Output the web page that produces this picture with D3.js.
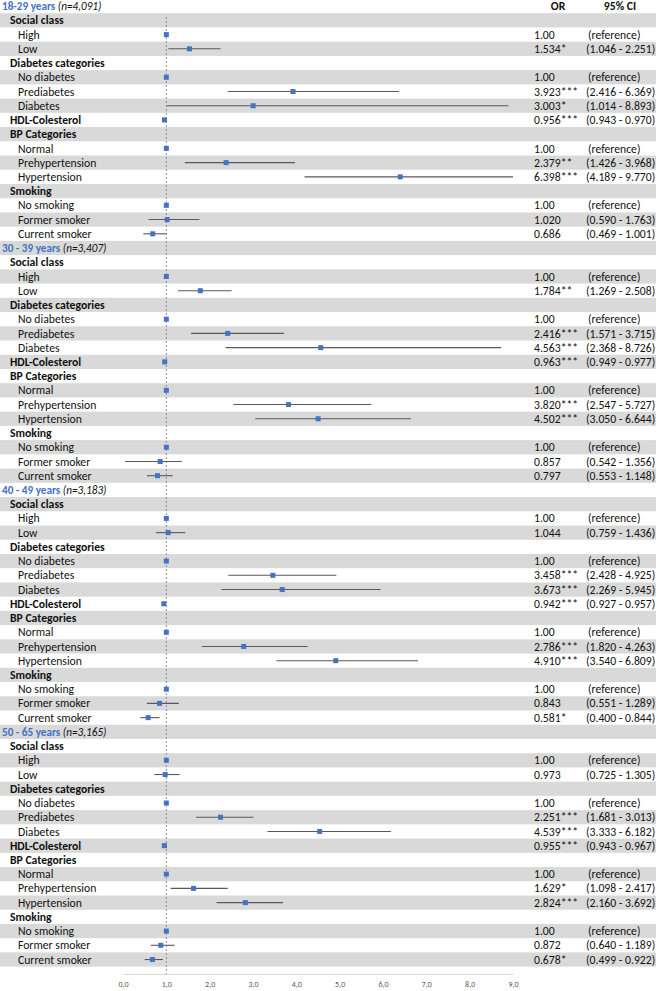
<!DOCTYPE html>
<html>
<head>
<meta charset="utf-8">
<script src="https://cdn.jsdelivr.net/npm/d3@7.9.0/dist/d3.min.js"></script>
<style>
  body { margin: 0; background: #fff; }
  svg text { font-family: Carlito, Lato, "Open Sans", sans-serif; fill: #111; }
</style>
</head>
<body>
<svg width="660" height="991"></svg>
<script>
// age groups
const groupLabels = ["18-29 years", "30 - 39 years", "40 - 49 years", "50 - 65 years"];
const groupN = ["(n=4,091)", "(n=3,407)", "(n=3,183)", "(n=3,165)"];

// rows inside each group (1 = bold header line)
const rowLabels = ["Social class", "High", "Low", "Diabetes categories", "No diabetes", "Prediabetes",
  "Diabetes", "HDL-Colesterol", "BP Categories", "Normal", "Prehypertension", "Hypertension",
  "Smoking", "No smoking", "Former smoker", "Current smoker"];
const rowIsHeader = [1, 0, 0, 1, 0, 0, 0, 1, 1, 0, 0, 0, 1, 0, 0, 0];

// odds ratios (null = no value, 1 with no CI = reference)
const or18 = [null, 1, 1.534, null, 1, 3.923, 3.003, 0.956, null, 1, 2.379, 6.398, null, 1, 1.020, 0.686];
const lo18 = [null, null, 1.046, null, null, 2.416, 1.014, 0.943, null, null, 1.426, 4.189, null, null, 0.590, 0.469];
const hi18 = [null, null, 2.251, null, null, 6.369, 8.893, 0.970, null, null, 3.968, 9.770, null, null, 1.763, 1.001];
const sig18 = ["", "", "*", "", "", "***", "*", "***", "", "", "**", "***", "", "", "", ""];

const or30 = [null, 1, 1.784, null, 1, 2.416, 4.563, 0.963, null, 1, 3.820, 4.502, null, 1, 0.857, 0.797];
const lo30 = [null, null, 1.269, null, null, 1.571, 2.368, 0.949, null, null, 2.547, 3.050, null, null, 0.542, 0.553];
const hi30 = [null, null, 2.508, null, null, 3.715, 8.726, 0.977, null, null, 5.727, 6.644, null, null, 1.356, 1.148];
const sig30 = ["", "", "**", "", "", "***", "***", "***", "", "", "***", "***", "", "", "", ""];

const or40 = [null, 1, 1.044, null, 1, 3.458, 3.673, 0.942, null, 1, 2.786, 4.910, null, 1, 0.843, 0.581];
const lo40 = [null, null, 0.759, null, null, 2.428, 2.269, 0.927, null, null, 1.820, 3.540, null, null, 0.551, 0.400];
const hi40 = [null, null, 1.436, null, null, 4.925, 5.945, 0.957, null, null, 4.263, 6.809, null, null, 1.289, 0.844];
const sig40 = ["", "", "", "", "", "***", "***", "***", "", "", "***", "***", "", "", "", "*"];

const or50 = [null, 1, 0.973, null, 1, 2.251, 4.539, 0.955, null, 1, 1.629, 2.824, null, 1, 0.872, 0.678];
const lo50 = [null, null, 0.725, null, null, 1.681, 3.333, 0.943, null, null, 1.098, 2.160, null, null, 0.640, 0.499];
const hi50 = [null, null, 1.305, null, null, 3.013, 6.182, 0.967, null, null, 2.417, 3.692, null, null, 1.189, 0.922];
const sig50 = ["", "", "", "", "", "***", "***", "***", "", "", "*", "***", "", "", "", "*"];

// in the figure the 30-39 former smoker whisker is drawn from about 0.05
const drawnLowFormer30 = 0.05;

const axisTicks = [0, 1, 2, 3, 4, 5, 6, 7, 8, 9];

const groups = [
  { or: or18, lo: lo18, hi: hi18, sig: sig18 },
  { or: or30, lo: lo30, hi: hi30, sig: sig30 },
  { or: or40, lo: lo40, hi: hi40, sig: sig40 },
  { or: or50, lo: lo50, hi: hi50, sig: sig50 }
];

const svg = d3.select("svg");
const rowH = 14.23, rowTop = -1;
const fs = 11.7;
const nRows = groups.length * (rowLabels.length + 1);
const y = i => rowTop + i * rowH;          // row top
const yc = i => rowTop + (i + 0.5) * rowH; // row centre

const x = d3.scaleLinear().domain([0, 9]).range([123, 513]).clamp(true);
const blue = "#4472C4";

// alternating grey bands
svg.append("g").selectAll("rect")
  .data(d3.range(nRows).filter(i => i % 2 === 1))
  .join("rect")
  .attr("x", 0).attr("width", 656)
  .attr("y", d => y(d)).attr("height", rowH)
  .attr("fill", "#d9d9d9");

// reference line at OR = 1
const axisY = 974;
svg.append("line")
  .attr("x1", x(1)).attr("x2", x(1))
  .attr("y1", 17).attr("y2", axisY)
  .attr("stroke", "#8c8c8c").attr("stroke-width", 1)
  .attr("stroke-dasharray", "2,2");

// column headers
svg.append("text").attr("x", 558).attr("y", yc(0)).attr("dy", "0.35em")
  .attr("text-anchor", "middle").attr("font-size", fs).attr("font-weight", "bold").text("OR");
svg.append("text").attr("x", 620).attr("y", yc(0)).attr("dy", "0.35em")
  .attr("text-anchor", "middle").attr("font-size", fs).attr("font-weight", "bold").text("95% CI");

groups.forEach((g, gi) => {
  const base = gi * (rowLabels.length + 1);

  const title = svg.append("text").attr("x", 2).attr("y", yc(base)).attr("dy", "0.35em")
    .attr("font-size", 11.2);
  title.append("tspan").attr("font-weight", "bold").style("fill", blue).text(groupLabels[gi]);
  title.append("tspan").attr("font-style", "italic").text(" " + groupN[gi]);

  rowLabels.forEach((lab, ri) => {
    const r = base + 1 + ri;
    svg.append("text")
      .attr("x", rowIsHeader[ri] ? 10 : 18)
      .attr("y", yc(r)).attr("dy", "0.35em")
      .attr("font-size", fs)
      .attr("font-weight", rowIsHeader[ri] ? "bold" : "normal")
      .text(lab);

    const v = g.or[ri];
    if (v == null) return;
    const isRef = g.lo[ri] == null;

    if (!isRef) {
      let lowDrawn = g.lo[ri];
      if (gi === 1 && lab === "Former smoker") lowDrawn = drawnLowFormer30;
      svg.append("line")
        .attr("x1", x(lowDrawn)).attr("x2", x(g.hi[ri]))
        .attr("y1", yc(r)).attr("y2", yc(r))
        .attr("stroke", "#595959").attr("stroke-width", 1.1);
    }
    svg.append("rect")
      .attr("x", x(v) - 2.5).attr("y", yc(r) - 2.5)
      .attr("width", 5).attr("height", 5)
      .attr("fill", blue);

    svg.append("text").attr("x", 534).attr("y", yc(r)).attr("dy", "0.35em")
      .attr("font-size", fs)
      .text(isRef ? "1.00" : v.toFixed(3) + g.sig[ri]);
    svg.append("text").attr("x", isRef ? 588 : 586).attr("y", yc(r)).attr("dy", "0.35em")
      .attr("font-size", fs)
      .text(isRef ? "(reference)" : `(${g.lo[ri].toFixed(3)} - ${g.hi[ri].toFixed(3)})`);
  });
});

// bottom axis
const axis = svg.append("g").attr("transform", `translate(0,${axisY})`)
  .call(d3.axisBottom(x).tickValues(axisTicks).tickSize(0).tickPadding(7)
    .tickFormat(d => d3.format(".1f")(d).replace(".", ",")));
axis.select(".domain").attr("stroke", "#d9d9d9");
axis.selectAll("text").attr("font-size", 8).style("fill", "#595959")
  .style("font-family", "Carlito, Lato, 'Open Sans', sans-serif");
</script>
</body>
</html>
